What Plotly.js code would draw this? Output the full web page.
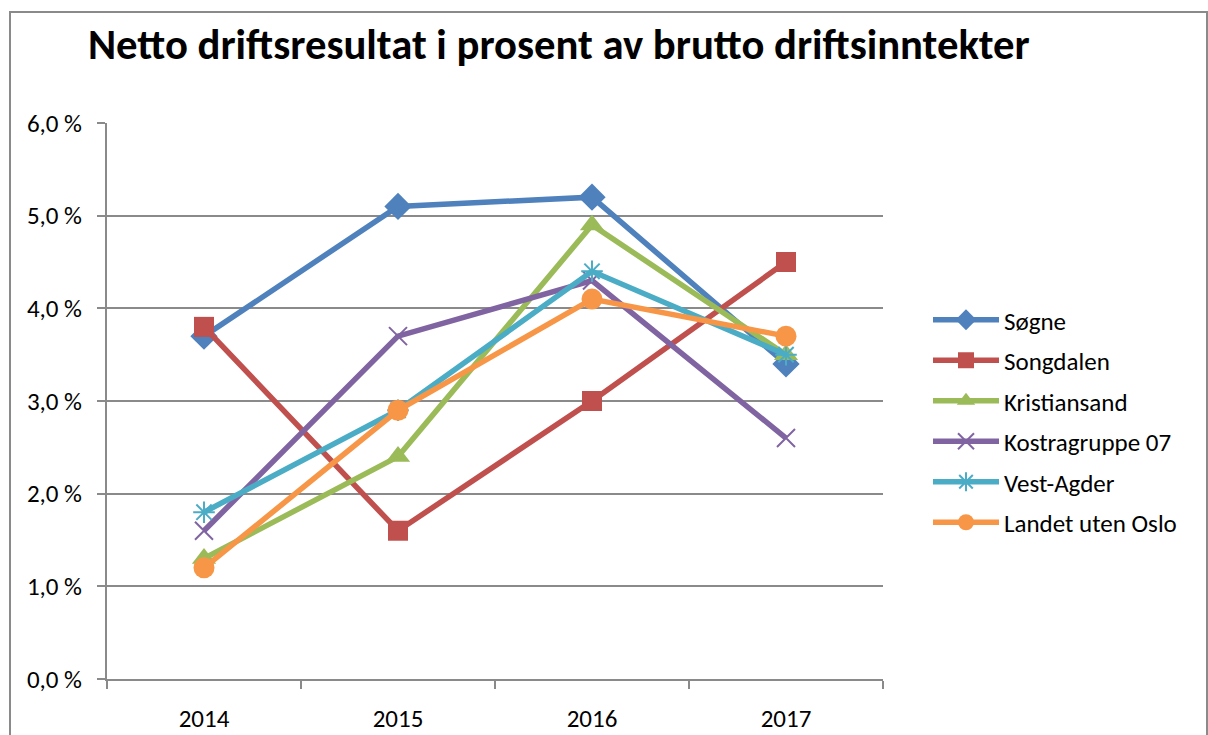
<!DOCTYPE html>
<html>
<head>
<meta charset="utf-8">
<script src="https://cdn.plot.ly/plotly-3.0.1.min.js"></script>
<style>
  html, body { margin: 0; padding: 0; background: #fff; }
  #chart { width: 1208px; height: 735px; position: absolute; left: 0; top: 0; }
  #frame { position: absolute; left: 9px; top: 11px; width: 1195px; height: 740px; border: 2px solid #8a8a8a; pointer-events: none; }
</style>
</head>
<body>
<div id="chart"></div>
<div id="frame"></div>
<script>
const years = ["2014", "2015", "2016", "2017"];
const seriesNames = ["Søgne", "Songdalen", "Kristiansand", "Kostragruppe 07", "Vest-Agder", "Landet uten Oslo"];
const sogne = [3.7, 5.1, 5.2, 3.4];
const songdalen = [3.8, 1.6, 3.0, 4.5];
const kristiansand = [1.3, 2.4, 4.9, 3.5];
const kostragruppe07 = [1.6, 3.7, 4.3, 2.6];
const vestAgder = [1.8, 2.9, 4.4, 3.5];
const landetUtenOslo = [1.2, 2.9, 4.1, 3.7];
const yTickVals = [0, 1, 2, 3, 4, 5, 6];
const yTickText = ["0,0 %", "1,0 %", "2,0 %", "3,0 %", "4,0 %", "5,0 %", "6,0 %"];

const values = [sogne, songdalen, kristiansand, kostragruppe07, vestAgder, landetUtenOslo];
const colors = ["#4F81BD", "#C0504D", "#9BBB59", "#8064A2", "#4BACC6", "#F79646"];
const symbols = ["diamond", "square", "triangle-up", "x-thin-open", "asterisk-open", "circle"];
const sizes = [21, 20, 21, 18, 18, 21];

const traces = values.map((v, i) => ({
  type: "scatter",
  mode: "lines+markers",
  x: years,
  y: v,
  name: seriesNames[i],
  legendgroup: "g" + i,
  line: { color: colors[i], width: 5.5 },
  marker: {
    symbol: symbols[i],
    size: sizes[i],
    color: colors[i],
    line: { color: colors[i], width: (symbols[i].indexOf("open") >= 0) ? 2 : 0 }
  },
  hoverinfo: "x+y+name"
}));

const font = "Calibri, Carlito, Lato, 'Open Sans', sans-serif";

const layout = {
  width: 1208,
  height: 735,
  paper_bgcolor: "#ffffff",
  plot_bgcolor: "#ffffff",
  margin: { l: 107, r: 325, t: 123, b: 56 },
  font: { family: font, size: 25, color: "#000" },
  title: {
    text: "<b>Netto driftsresultat i prosent av brutto driftsinntekter</b>",
    font: { family: font, size: 42.7, color: "#000" },
    xref: "container", yref: "container",
    x: 88 / 1208, xanchor: "left",
    y: 1 - 44 / 735, yanchor: "middle"
  },
  xaxis: {
    type: "category",
    range: [-0.5, 3.5],
    showgrid: false,
    showline: true, linecolor: "#8a8a8a", linewidth: 2,
    ticks: "outside", tickson: "boundaries", ticklen: 8, tickcolor: "#8a8a8a", tickwidth: 2,
    tickfont: { family: font, size: 25, color: "#000" },
    ticklabelstandoff: 16,
    zeroline: false,
    fixedrange: true
  },
  yaxis: {
    range: [0, 6],
    tickvals: yTickVals,
    ticktext: yTickText,
    showgrid: true, gridcolor: "#8a8a8a", gridwidth: 2,
    showline: true, linecolor: "#8a8a8a", linewidth: 2,
    ticks: "outside", ticklen: 8, tickcolor: "#8a8a8a", tickwidth: 2,
    tickfont: { family: font, size: 25, color: "#000" },
    ticklabelstandoff: 10,
    zeroline: false,
    fixedrange: true
  },
  legend: {
    x: 1 + 45 / 776, xanchor: "left",
    y: 0.5 - 20 / 556, yanchor: "middle",
    font: { family: font, size: 25, color: "#000" },
    itemwidth: 66,
    tracegroupgap: 5,
    bgcolor: "rgba(0,0,0,0)"
  },
  showlegend: true
};

Plotly.newPlot("chart", traces, layout, { displayModeBar: false, responsive: false });
</script>
</body>
</html>
